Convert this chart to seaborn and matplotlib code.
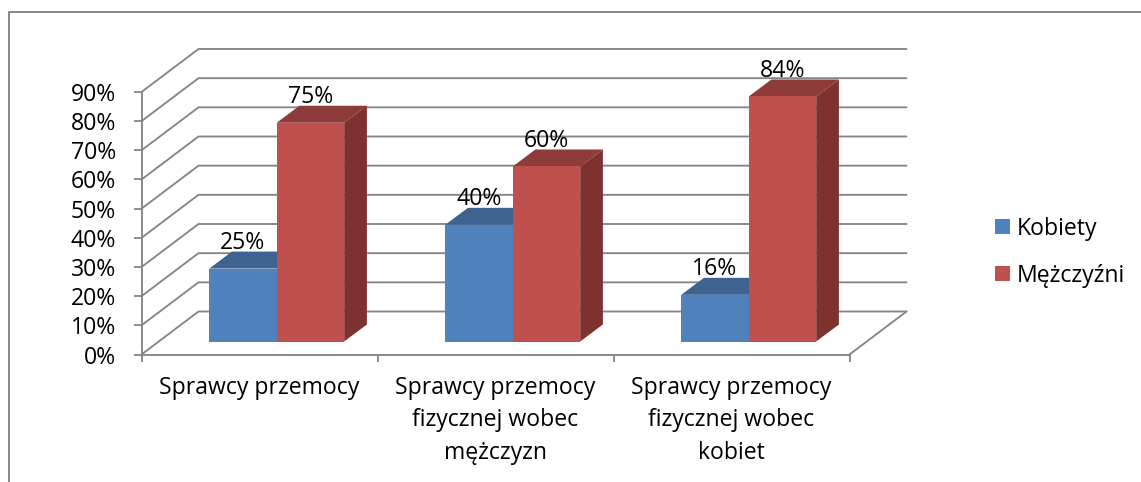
import pandas as pd
import matplotlib.pyplot as plt
from matplotlib.lines import Line2D
from matplotlib.patches import Polygon
import seaborn as sns

categories = ['Sprawcy przemocy',
              'Sprawcy przemocy\nfizycznej wobec\nmężczyzn',
              'Sprawcy przemocy\nfizycznej wobec\nkobiet']
kobiety = [25, 40, 16]
mezczyzni = [75, 60, 84]
series_names = ['Kobiety', 'Mężczyźni']
y_ticks = list(range(0, 100, 10))

front_colors = ['#4F81BD', '#C0504D']
top_colors = ['#3E6390', '#8E3B39']
side_colors = ['#37587F', '#7D3230']
grid_color = '#868686'

W, H = 1141, 482

df = pd.DataFrame({
    'kategoria': categories * 2,
    'procent': kobiety + mezczyzni,
    'plec': [series_names[0]] * 3 + [series_names[1]] * 3,
})

sns.set_theme(style='white')
plt.rcParams['font.family'] = ['Open Sans', 'DejaVu Sans']
plt.rcParams['text.color'] = 'black'
fs = 16.6


def px_axes(fig, left, right, top, bottom):
    return fig.add_axes([left / W, 1 - bottom / H, (right - left) / W, (bottom - top) / H])


fig = plt.figure(figsize=(W / 100, H / 100), dpi=100, facecolor='white')

# frame, only the top and left edges are in the crop
fig.add_artist(Line2D([8.5 / W, 8.5 / W, 1], [0, 1 - 12 / H, 1 - 12 / H], color=grid_color, lw=1.4))

# front plane of the box holds the real axis
ax = px_axes(fig, 141.5, 849.5, 92, 354.5)
ax.set_xlim(-0.5, 2.5)
ax.set_ylim(0, 90)
ax.patch.set_alpha(0)
px_x = 3 / 708
px_y = 90 / 262.5
wall_dx, wall_dy = 57 * px_x, 43 * px_y

for v in y_ticks:
    ax.plot([-0.5, -0.5 + wall_dx, 2.5 + wall_dx], [v, v + wall_dy, v + wall_dy],
            color=grid_color, lw=1.35, clip_on=False, zorder=1)
ax.plot([2.5, 2.5 + wall_dx], [0, wall_dy], color=grid_color, lw=1.35, clip_on=False, zorder=1)

for s in ['top', 'right']:
    ax.spines[s].set_visible(False)
for s in ['left', 'bottom']:
    ax.spines[s].set_color(grid_color)
    ax.spines[s].set_linewidth(1.35)

ax.set_yticks(y_ticks)
ax.set_yticklabels([str(v) + '%' for v in y_ticks], fontsize=fs, color='black')
ax.tick_params(axis='y', left=True, length=6, width=1.3, color=grid_color, pad=12.5)
ax.set_xticks([-0.5, 0.5, 1.5, 2.5])
ax.set_xticklabels([])
ax.set_xticks([0, 1, 2], minor=True)
ax.set_xticklabels(categories, minor=True, fontsize=fs, linespacing=1.47, va='top', color='black')
ax.tick_params(axis='x', which='major', bottom=True, length=5, width=1.3, color=grid_color)
ax.tick_params(axis='x', which='minor', bottom=False, length=0, pad=15.5)

# the bars stand a little inside the box, same scale
ax_bars = px_axes(fig, 141.5 + 17.2, 849.5 + 17.2, 92 - 13, 354.5 - 13)
sns.barplot(data=df, x='kategoria', y='procent', hue='plec', palette=front_colors,
            saturation=1, width=0.572, gap=0, linewidth=0, ax=ax_bars)
ax_bars.set_xlim(-0.5, 2.5)
ax_bars.set_ylim(0, 90)
ax_bars.axis('off')
ax_bars.patch.set_alpha(0)

bar_dx, bar_dy = 22.7 * px_x, 17 * px_y
for i, cont in enumerate(ax_bars.containers):
    for p in cont.patches:
        p.set_zorder(3)
        x0, x1 = p.get_x(), p.get_x() + p.get_width()
        h = p.get_height()
        ax_bars.add_patch(Polygon([(x0, h), (x1, h), (x1 + bar_dx, h + bar_dy), (x0 + bar_dx, h + bar_dy)],
                                  closed=True, facecolor=top_colors[i], edgecolor='none', zorder=2))
        ax_bars.add_patch(Polygon([(x1, 0), (x1 + bar_dx, bar_dy), (x1 + bar_dx, h + bar_dy), (x1, h)],
                                  closed=True, facecolor=side_colors[i], edgecolor='none', zorder=2))
    ax_bars.bar_label(cont, fmt='%d%%', fontsize=fs, padding=10, zorder=5, color='black')

handles, labels = ax_bars.get_legend_handles_labels()
ax_bars.legend(handles, labels, loc='upper left', bbox_to_anchor=(990.3 / W, 1 - 212 / H),
               bbox_transform=fig.transFigure, frameon=False, fontsize=fs, ncol=1,
               handlelength=0.65, handleheight=0.65, handletextpad=0.3,
               labelspacing=1.0, borderpad=0.2, borderaxespad=0)

fig.savefig('out.png', dpi=100)
